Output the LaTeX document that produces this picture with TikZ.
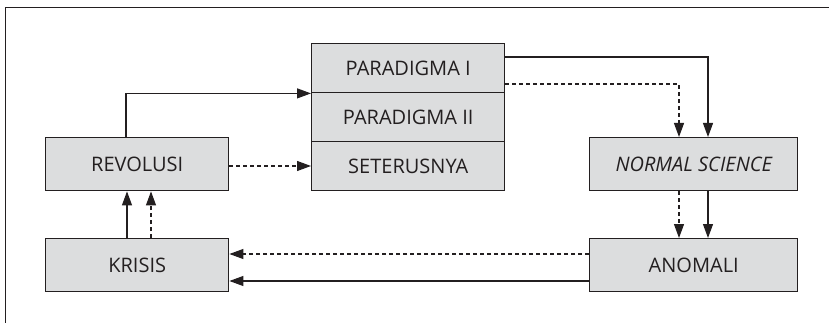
\documentclass[tikz,border=0pt]{standalone}
\usepackage{fontspec}
\setmainfont{Open Sans}
\usetikzlibrary{arrows.meta}
\definecolor{boxgray}{HTML}{DCDDDE}
\definecolor{ink}{HTML}{231F20}
\begin{document}
\begin{tikzpicture}[x=1pt,y=-1pt,
  box/.style={draw=ink,line width=1.4pt,fill=boxgray,inner sep=0pt,anchor=north west,
    font=\fontsize{20}{22}\selectfont,text=ink},
  conn/.style={draw=ink,line width=1.1pt,-{Triangle[length=14pt,width=10pt]}},
  dconn/.style={conn,dash pattern=on 4pt off 3pt}]
\useasboundingbox (0,0) rectangle (829,323);
\draw[ink,line width=1pt] (5,323) -- (5,8) -- (829,8);
\node[box,minimum width=193pt,minimum height=49pt] (p1) at (311,43) {PARADIGMA I};
\node[box,minimum width=193pt,minimum height=49pt] (p2) at (311,92) {PARADIGMA II};
\node[box,minimum width=193pt,minimum height=49pt] (p3) at (311,141) {SETERUSNYA};
\node[box,minimum width=183pt,minimum height=53pt] (rev) at (45,137) {REVOLUSI};
\node[box,minimum width=183pt,minimum height=53pt] (kri) at (45,238) {KRISIS};
\node[box,minimum width=208pt,minimum height=53pt] (ns) at (589,137) {\itshape NORMAL SCIENCE};
\node[box,minimum width=208pt,minimum height=53pt] (ano) at (589,238) {ANOMALI};
% revolusi -> paradigma
\draw[conn] (rev.north -| 126,0) |- (p1.south west);
\draw[dconn] (rev.east |- 0,166) -- (p3.west |- 0,166);
% paradigma -> normal science
\draw[conn] (p1.east |- 0,57) -| (ns.north -| 708,0);
\draw[dconn] (p1.east |- 0,84) -| (ns.north -| 679,0);
% normal science -> anomali
\draw[conn] (ns.south -| 708,0) -- (ano.north -| 708,0);
\draw[dconn] (ns.south -| 679,0) -- (ano.north -| 679,0);
% anomali -> krisis
\draw[dconn] (ano.west |- 0,254) -- (kri.east |- 0,254);
\draw[conn] (ano.west |- 0,281) -- (kri.east |- 0,281);
% krisis -> revolusi
\draw[conn] (kri.north -| 127,0) -- (rev.south -| 127,0);
\draw[dconn] (kri.north -| 151,0) -- (rev.south -| 151,0);
\end{tikzpicture}
\end{document}
